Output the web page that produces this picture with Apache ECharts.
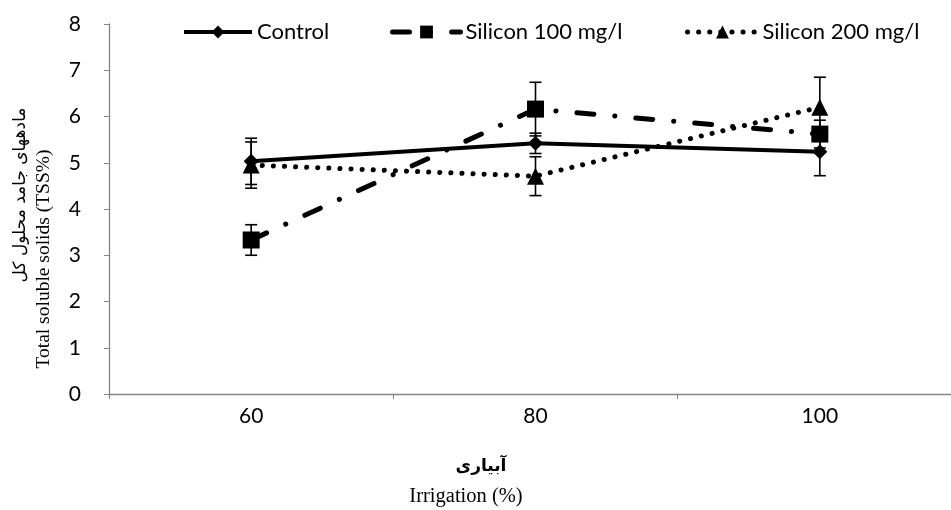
<!DOCTYPE html>
<html>
<head>
<meta charset="utf-8">
<script src="https://cdn.jsdelivr.net/npm/echarts@6/dist/echarts.min.js"></script>
<style>html,body{margin:0;padding:0;background:#fff}#c{width:951px;height:510px}</style>
</head>
<body>
<div id="c"></div>
<script>
const categories = ['60', '80', '100'];
const controlVals = [5.03, 5.42, 5.24];
const controlErr = [0.5, 0.22, 0.52];
const si100Vals = [3.33, 6.16, 5.62];
const si100Err = [0.33, 0.58, 0.3];
const si200Vals = [4.95, 4.71, 6.2];
const si200Err = [0.5, 0.42, 0.65];
const yTicks = [0, 1, 2, 3, 4, 5, 6, 7, 8];

const chart = echarts.init(document.getElementById('c'));

function errSeries(name, vals, errs) {
  return {
    type: 'custom',
    name: name + ' err',
    data: vals.map((v, i) => [i, v - errs[i], v + errs[i]]),
    z: 1,
    silent: true,
    renderItem: function (params, api) {
      const x = api.value(0);
      const lo = api.coord([x, api.value(1)]);
      const hi = api.coord([x, api.value(2)]);
      const w = 6;
      const st = { stroke: '#000', lineWidth: 1.6 };
      return {
        type: 'group',
        children: [
          { type: 'line', shape: { x1: lo[0], y1: lo[1], x2: hi[0], y2: hi[1] }, style: st },
          { type: 'line', shape: { x1: lo[0] - w, y1: lo[1], x2: lo[0] + w, y2: lo[1] }, style: st },
          { type: 'line', shape: { x1: hi[0] - w, y1: hi[1], x2: hi[0] + w, y2: hi[1] }, style: st }
        ]
      };
    }
  };
}

const FONT = 'Lato, "Open Sans", sans-serif';
const legendText = { fontFamily: FONT, fontSize: 22, color: '#000' };

chart.setOption({
  animation: false,
  backgroundColor: '#fff',
  grid: { left: 109, right: -11, top: 24, bottom: 116, outerBoundsMode: 'none', containLabel: false },
  legend: [
    { data: ['Control'], left: 182, top: 21, padding: 0, itemWidth: 68, itemHeight: 16, itemGap: 0,
      lineStyle: { width: 4 }, textStyle: legendText },
    { data: ['Silicon 100 mg/l'], left: 390, top: 21, padding: 0, itemWidth: 68, itemHeight: 16, itemGap: 0,
      lineStyle: { width: 5 }, textStyle: legendText },
    { data: ['Silicon 200 mg/l'], left: 685, top: 21, padding: 0, itemWidth: 70, itemHeight: 16, itemGap: 0,
      lineStyle: { width: 5 }, textStyle: legendText }
  ],
  xAxis: {
    type: 'category',
    data: categories,
    boundaryGap: true,
    axisLine: { lineStyle: { color: '#868686', width: 1.3 } },
    axisTick: { show: true, length: 5, lineStyle: { color: '#868686' } },
    axisLabel: { color: '#000', fontSize: 21, margin: 12, fontFamily: FONT }
  },
  yAxis: {
    type: 'value',
    min: 0, max: 8, interval: 1,
    splitLine: { show: false },
    axisLine: { show: true, lineStyle: { color: '#868686', width: 1.3 } },
    axisTick: { show: true, length: 5, lineStyle: { color: '#868686' } },
    axisLabel: {
      color: '#000', fontSize: 21, margin: 28, fontFamily: FONT,
      formatter: v => yTicks.includes(v) ? String(v) : ''
    }
  },
  graphic: [
    { type: 'text', x: 21, y: 195, rotation: Math.PI / 2,
      style: { text: 'مادههای جامد محلول کل', font: '17px "DejaVu Sans", sans-serif', fill: '#000', align: 'center', verticalAlign: 'middle' } },
    { type: 'text', x: 44, y: 259, rotation: Math.PI / 2,
      style: { text: 'Total soluble solids (TSS%)', font: '19.5px "Liberation Serif", serif', fill: '#000', align: 'center', verticalAlign: 'middle' } },
    { type: 'text', x: 481, y: 467,
      style: { text: 'آبیاری', font: 'bold 17px "DejaVu Sans", sans-serif', fill: '#000', align: 'center', verticalAlign: 'middle' } },
    { type: 'text', x: 466, y: 497,
      style: { text: 'Irrigation (%)', font: '20.5px "Liberation Serif", serif', fill: '#000', align: 'center', verticalAlign: 'middle' } }
  ],
  series: [
    errSeries('Control', controlVals, controlErr),
    errSeries('Silicon 100 mg/l', si100Vals, si100Err),
    errSeries('Silicon 200 mg/l', si200Vals, si200Err),
    {
      name: 'Control', type: 'line', data: controlVals, z: 3,
      symbol: 'diamond', symbolSize: 15,
      itemStyle: { color: '#000' },
      lineStyle: { color: '#000', width: 4 }
    },
    {
      name: 'Silicon 100 mg/l', type: 'line', data: si100Vals, z: 3,
      symbol: 'rect', symbolSize: 17,
      itemStyle: { color: '#000' },
      lineStyle: { color: '#000', width: 5, type: [17, 21, 0.1, 21], cap: 'round' }
    },
    {
      name: 'Silicon 200 mg/l', type: 'line', data: si200Vals, z: 3,
      symbol: 'triangle', symbolSize: 17,
      itemStyle: { color: '#000' },
      lineStyle: { color: '#000', width: 5, type: [0.1, 11], cap: 'round' }
    }
  ]
});
</script>
</body>
</html>
